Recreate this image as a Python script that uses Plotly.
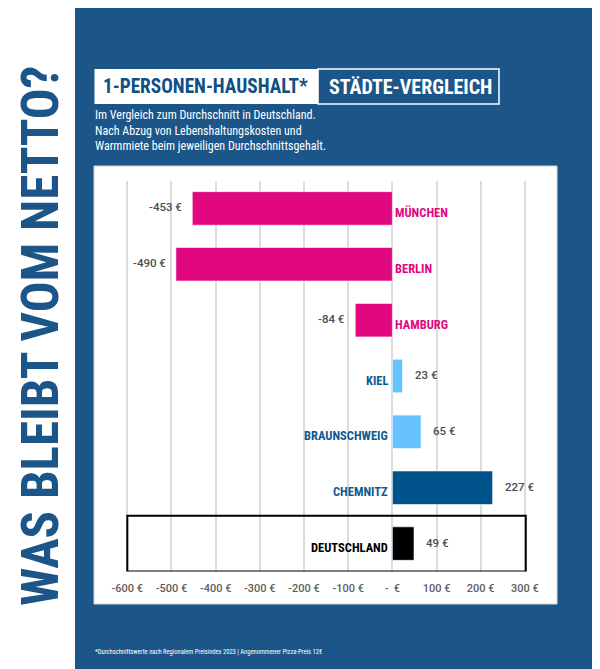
import plotly.graph_objects as go

# data
cities = ["MÜNCHEN", "BERLIN", "HAMBURG", "KIEL", "BRAUNSCHWEIG", "CHEMNITZ", "DEUTSCHLAND"]
values = [-453, -490, -84, 23, 65, 227, 49]
bar_colors = ["#E0077F", "#E0077F", "#E0077F", "#66C3FF", "#66C3FF", "#00538A", "#000000"]
name_colors = ["#E0077F", "#E0077F", "#E0077F", "#0F5A8F", "#0F5A8F", "#0F5A8F", "#000000"]
tick_vals = [-600, -500, -400, -300, -200, -100, 0, 100, 200, 300]
tick_text = ["-600 €", "-500 €", "-400 €", "-300 €", "-200 €", "-100 €", "-  €", "100 €", "200 €", "300 €"]

W, H = 600, 669
OFF = 8  # page body margin
BLUE = "#1C5689"
COND = "Roboto Condensed, Open Sans Condensed, sans-serif"
LABEL = "Roboto, sans-serif"


def px(x):
    return (x - OFF) / W


def py(y):
    return 1 - (y - OFF) / H


rows = list(range(len(cities)))

fig = go.Figure()
fig.add_trace(go.Bar(
    x=values,
    y=rows,
    orientation="h",
    width=0.6,
    marker=dict(color=bar_colors, line=dict(color="rgba(255,255,255,0.6)", width=1)),
    hoverinfo="skip",
))

annotations = []
for i, (c, v) in enumerate(zip(cities, values)):
    neg = v < 0
    # value label at bar end
    annotations.append(dict(
        x=v, y=i, xref="x", yref="y", text=f"{v} €", showarrow=False,
        xanchor="right" if neg else "left", xshift=-8 if neg else 10, yshift=1,
        font=dict(family=LABEL, size=11.5, color="#4D4D4D", weight=500),
    ))
    # city name at zero line
    annotations.append(dict(
        x=0, y=i, xref="x", yref="y", text=c, showarrow=False,
        xanchor="left" if neg else "right", xshift=1 if neg else -2, yshift=-4,
        font=dict(family=COND, size=12.5, color=name_colors[i], weight=700),
    ))

# headline texts
annotations += [
    dict(x=px(41), y=py(336), xref="paper", yref="paper", text="WAS BLEIBT VOM NETTO?",
         textangle=-90, showarrow=False, xanchor="center", yanchor="middle",
         font=dict(family=COND, size=51, color=BLUE, weight=700)),
    dict(x=px(101), y=py(86.5), xref="paper", yref="paper", text="1-PERSONEN-HAUSHALT*",
         showarrow=False, xanchor="left", yanchor="middle",
         font=dict(family=COND, size=19.3, color="#0F4F84", weight=700)),
    dict(x=px(327), y=py(86.5), xref="paper", yref="paper", text="STÄDTE-VERGLEICH",
         showarrow=False, xanchor="left", yanchor="middle",
         font=dict(family=COND, size=20, color="white", weight=700)),
    dict(x=px(93), y=py(106), xref="paper", yref="paper",
         text="Im Vergleich zum Durchschnitt in Deutschland.<br>Nach Abzug von Lebenshaltungskosten und<br>Warmmiete beim jeweiligen Durchschnittsgehalt.",
         showarrow=False, xanchor="left", yanchor="top", align="left",
         font=dict(family=COND, size=12, color="white")),
    dict(x=px(93), y=py(652), xref="paper", yref="paper",
         text="*Durchschnittswerte nach Regionalem Preisindex 2023 | Angenommener Pizza-Preis 12€",
         showarrow=False, xanchor="left", yanchor="middle",
         font=dict(family=COND, size=6.5, color="white")),
]

shapes = [
    # blue panel
    dict(type="rect", xref="paper", yref="paper", x0=px(75), x1=1, y0=0, y1=1,
         fillcolor=BLUE, line=dict(width=0), layer="below"),
    # white card
    dict(type="rect", xref="paper", yref="paper", x0=px(94), x1=px(557), y0=py(604), y1=py(166),
         fillcolor="white", line=dict(color="#D5D5D5", width=1), layer="below"),
    # title boxes
    dict(type="rect", xref="paper", yref="paper", x0=px(94.5), x1=px(318), y0=py(104), y1=py(69),
         fillcolor="white", line=dict(width=0), layer="below"),
    dict(type="rect", xref="paper", yref="paper", x0=px(318), x1=px(499), y0=py(104), y1=py(69),
         fillcolor=BLUE, line=dict(color="white", width=1.5), layer="below"),
    # Deutschland highlight box
    dict(type="rect", xref="x", yref="y", x0=-600, x1=302, y0=len(cities) - 1.5, y1=len(cities) - 0.5,
         fillcolor="rgba(0,0,0,0)", line=dict(color="black", width=2), layer="above"),
]

fig.update_layout(
    width=W, height=H,
    margin=dict(l=0, r=0, t=0, b=0),
    paper_bgcolor="white",
    plot_bgcolor="rgba(0,0,0,0)",
    showlegend=False,
    annotations=annotations,
    shapes=shapes,
    xaxis=dict(
        domain=[px(122.9), px(529.3)],
        range=[-610, 310],
        tickvals=tick_vals, ticktext=tick_text,
        showgrid=True, gridcolor="#DCDCDC", gridwidth=1.5,
        zeroline=False, showline=False, ticks="",
        tickfont=dict(family=LABEL, size=11, color="#5E5E5E", weight=500),
        ticklabelstandoff=8,
        automargin=False,
        fixedrange=True,
    ),
    yaxis=dict(
        domain=[py(571.5), py(180.5)],
        range=[len(cities) - 0.5, -0.5],
        showgrid=False, zeroline=False, showticklabels=False, showline=False,
        automargin=False,
        fixedrange=True,
    ),
)

fig.write_html("out.html")
